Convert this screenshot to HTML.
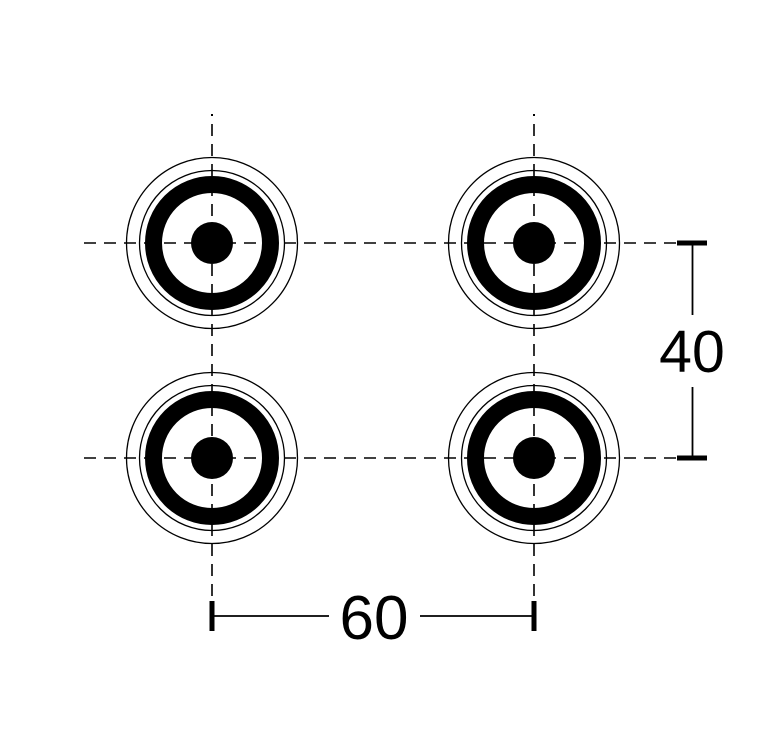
<!DOCTYPE html>
<html><head><style>html,body{margin:0;padding:0;background:#fff}</style></head>
<body>
<svg width="768" height="740" viewBox="0 0 768 740" xmlns="http://www.w3.org/2000/svg">
<g stroke="#000" stroke-width="1.6" stroke-dasharray="12 8" fill="none">
<line x1="84" y1="243" x2="678" y2="243"/>
<line x1="84" y1="458" x2="678" y2="458"/>
<line x1="212" y1="124" x2="212" y2="600"/>
<line x1="534" y1="124" x2="534" y2="600"/>
</g>
<rect x="211" y="114" width="2" height="2" fill="#000"/>
<rect x="533" y="114" width="2" height="2" fill="#000"/>
<g id="c">
<circle cx="212" cy="243" r="85.5" fill="none" stroke="#000" stroke-width="1.3"/>
<circle cx="212" cy="243" r="72.5" fill="none" stroke="#000" stroke-width="1.3"/>
<circle cx="212" cy="243" r="58.5" fill="none" stroke="#000" stroke-width="17"/>
<circle cx="212" cy="243" r="21" fill="#000"/>
</g>
<use href="#c" x="322" y="0"/>
<use href="#c" x="0" y="215"/>
<use href="#c" x="322" y="215"/>
<g stroke="#000">
<line x1="677" y1="243" x2="707" y2="243" stroke-width="5"/>
<line x1="677" y1="458" x2="707" y2="458" stroke-width="5"/>
<line x1="692.5" y1="243" x2="692.5" y2="315" stroke-width="1.8"/>
<line x1="692.5" y1="387" x2="692.5" y2="458" stroke-width="1.8"/>
<line x1="212" y1="601" x2="212" y2="631" stroke-width="5"/>
<line x1="534" y1="601" x2="534" y2="631" stroke-width="5"/>
<line x1="212" y1="616" x2="329" y2="616" stroke-width="1.8"/>
<line x1="420" y1="616" x2="534" y2="616" stroke-width="1.8"/>
</g>
<text x="692" y="372" font-family="Liberation Sans, sans-serif" font-size="59" text-anchor="middle">40</text>
<text x="374" y="639" font-family="Liberation Sans, sans-serif" font-size="62" text-anchor="middle">60</text>
</svg>
</body></html>
